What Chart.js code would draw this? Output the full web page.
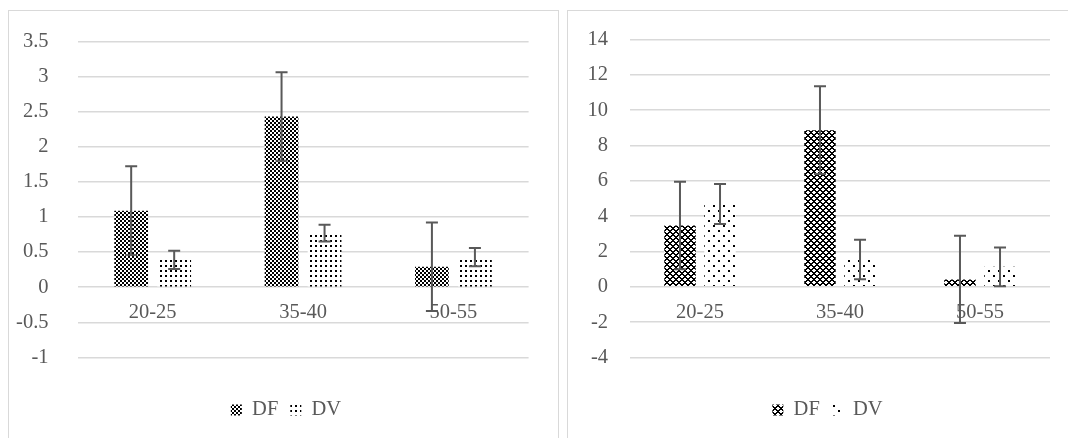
<!DOCTYPE html>
<html>
<head>
<meta charset="utf-8">
<script src="https://cdn.jsdelivr.net/npm/chart.js@4.4.1/dist/chart.umd.min.js"></script>
<style>
html,body{margin:0;padding:0;background:#fff;overflow:hidden;width:1068px;height:438px;}
.wrap{position:absolute;top:0;height:438px;}
.frame{position:absolute;border:1px solid #d9d9d9;pointer-events:none;box-sizing:border-box;}
</style>
</head>
<body>
<div class="wrap" style="left:0;width:562px"><canvas id="c1" width="562" height="438"></canvas></div>
<div class="wrap" style="left:558px;width:514px"><canvas id="c2" width="514" height="438"></canvas></div>
<div class="frame" style="left:8px;top:10px;width:551px;height:460px"></div>
<div class="frame" style="left:567px;top:10px;width:560px;height:460px"></div>
<script>
// ---- data ----
const categories = ['20-25', '35-40', '50-55'];
const seriesNames = ['DF', 'DV'];

const leftDF = [1.09, 2.43, 0.29];
const leftDV = [0.39, 0.77, 0.43];
const leftDFErr = [0.63, 0.63, 0.63];
const leftDVErr = [0.13, 0.12, 0.13];
const leftTicks = [-1, -0.5, 0, 0.5, 1, 1.5, 2, 2.5, 3, 3.5];

const rightDF = [3.47, 8.87, 0.42];
const rightDV = [4.69, 1.55, 1.13];
const rightDFErr = [2.48, 2.48, 2.47];
const rightDVErr = [1.13, 1.12, 1.10];
const rightTicks = [-4, -2, 0, 2, 4, 6, 8, 10, 12, 14];

// ---- styles ----
const textColor = '#595959';
const fontFamily = "'Liberation Serif', 'Times New Roman', serif";

function makePattern(w, h, painter) {
  const c = document.createElement('canvas');
  c.width = w; c.height = h;
  const x = c.getContext('2d');
  x.fillStyle = '#fff'; x.fillRect(0, 0, w, h);
  x.fillStyle = '#000';
  painter(x, w, h);
  return x.createPattern(c, 'repeat');
}
const patLeftDF = makePattern(4, 4, x => { x.fillRect(0, 0, 2, 2); x.fillRect(2, 2, 2, 2); });
const patLeftDV = makePattern(5, 5, x => { x.fillRect(0, 0, 2, 2); });
const patRightDF = makePattern(6, 6, (x, w, h) => {
  for (let i = 0; i < w; i++) for (let j = 0; j < h; j++) {
    if ((i + j) % 6 < 2 || ((i - j + 6) % 6) < 2) x.fillRect(i, j, 1, 1);
  }
});
const patRightDV = makePattern(10, 10, x => { x.fillRect(0, 0, 2, 2); x.fillRect(5, 5, 2, 2); });

const errorBars = {
  id: 'errorBars',
  afterDatasetsDraw(chart, args, opts) {
    const ctx = chart.ctx;
    const y = chart.scales.y;
    ctx.save();
    ctx.strokeStyle = opts.color;
    ctx.lineWidth = opts.width;
    chart.data.datasets.forEach((ds, i) => {
      const meta = chart.getDatasetMeta(i);
      meta.data.forEach((bar, j) => {
        const v = ds.data[j], e = ds.errors[j];
        const yt = y.getPixelForValue(v + e), yb = y.getPixelForValue(v - e);
        const x = bar.x;
        ctx.beginPath();
        ctx.moveTo(x, yt); ctx.lineTo(x, yb);
        ctx.moveTo(x - opts.cap, yt); ctx.lineTo(x + opts.cap, yt);
        ctx.moveTo(x - opts.cap, yb); ctx.lineTo(x + opts.cap, yb);
        ctx.stroke();
      });
    });
    ctx.restore();
  }
};

function build(id, df, dv, dfErr, dvErr, ticks, pats, geo) {
  const font = { family: fontFamily, size: 20.5 };
  return new Chart(document.getElementById(id), {
    type: 'bar',
    data: {
      labels: categories,
      datasets: [
        { label: seriesNames[0], data: df, errors: dfErr, backgroundColor: pats[0], borderWidth: 0 },
        { label: seriesNames[1], data: dv, errors: dvErr, backgroundColor: pats[1], borderWidth: 0 }
      ]
    },
    options: {
      responsive: false,
      animation: false,
      devicePixelRatio: 1,
      datasets: { bar: { categoryPercentage: 0.572, barPercentage: 0.785 } },
      layout: { padding: { left: geo.padL, right: 0, top: 39.5, bottom: 7.75 } },
      scales: {
        x: {
          position: { y: 0 },
          grid: { display: false, drawTicks: false },
          border: { display: false },
          ticks: { color: textColor, font: font, padding: 13 }
        },
        y: {
          min: ticks[0],
          max: ticks[ticks.length - 1],
          afterBuildTicks: s => { s.ticks = ticks.map(v => ({ value: v })); },
          afterFit: s => { s.width = geo.axisW; },
          grid: { color: '#d9d9d9', lineWidth: 1.5, drawTicks: false },
          border: { display: false },
          ticks: { color: textColor, font: font, padding: geo.tickPad, callback: v => String(v) }
        },
        spacer: {
          type: 'linear',
          position: 'right',
          grid: { display: false, drawTicks: false },
          border: { display: false },
          ticks: { display: false },
          afterFit: s => { s.width = geo.spacerW; }
        }
      },
      plugins: {
        legend: {
          position: 'bottom',
          labels: { boxWidth: 11, boxHeight: 11, padding: 12, color: textColor, font: font },
          title: { display: true, text: '', padding: { top: 29.25, bottom: 0 }, font: { size: 1, lineHeight: 1 } }
        },
        tooltip: { enabled: false },
        errorBars: { color: '#595959', width: 2, cap: 6 }
      }
    },
    plugins: [errorBars]
  });
}

build('c1', leftDF, leftDV, leftDFErr, leftDVErr, leftTicks, [patLeftDF, patLeftDV],
      { padL: 10, axisW: 67.5, tickPad: 29, spacerW: 33.4 });
build('c2', rightDF, rightDV, rightDFErr, rightDVErr, rightTicks, [patRightDF, patRightDV],
      { padL: 25, axisW: 47, tickPad: 22, spacerW: 22 });
</script>
</body>
</html>
